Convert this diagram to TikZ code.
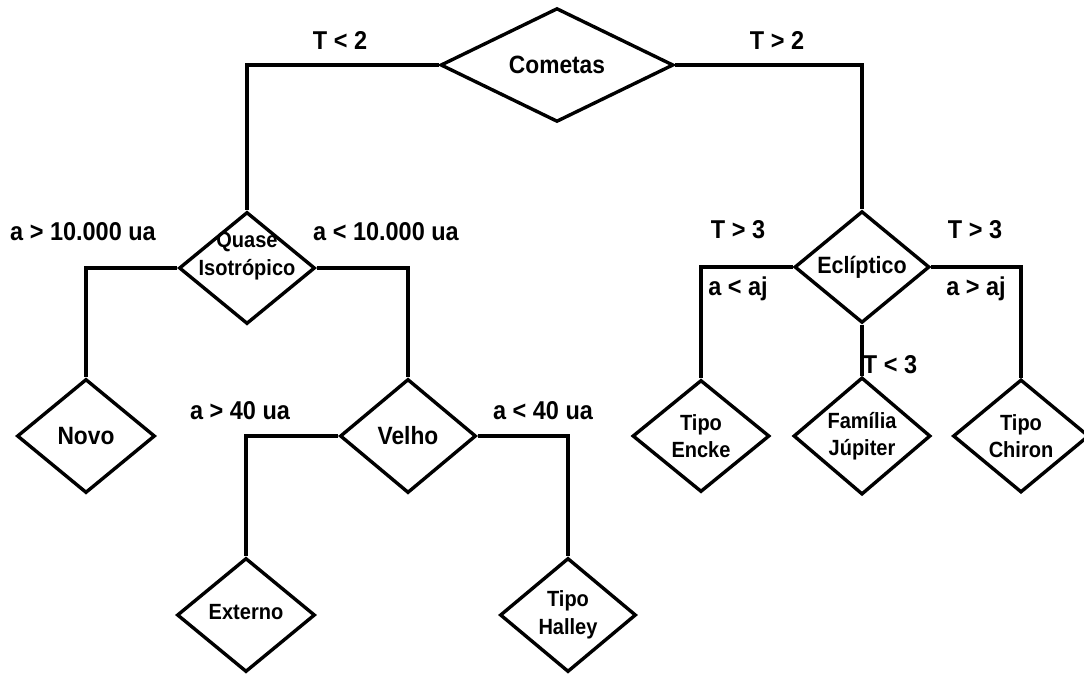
\documentclass[tikz,border=0pt]{standalone}
\usepackage{fontspec}
\setmainfont{Liberation Sans}[FakeStretch=0.91]
\usetikzlibrary{shapes.geometric}
\tikzset{
  dia/.style={draw=black, line width=3.4pt, diamond, inner sep=0pt, shape aspect=1, align=center, font=\bfseries\fontsize{22}{27.5}\selectfont},
  bigtxt/.style={font=\bfseries\fontsize{25}{27.5}\selectfont},
  conn/.style={draw=black, line width=3.4pt},
  lbl/.style={anchor=base, inner sep=0pt, font=\bfseries\fontsize{25.8}{28}\selectfont}
}
\begin{document}
\begin{tikzpicture}[x=1pt,y=-1pt]
\useasboundingbox (0,0) rectangle (1084,673);
% diamonds
\node[dia, bigtxt, minimum width=233pt, minimum height=112pt] (com) at (557,65) {Cometas};
\node[dia, minimum width=136pt, minimum height=112pt,
  label={[font=\bfseries\fontsize{22}{28}\selectfont, align=center, yshift=12pt]center:Quase\\Isotrópico}] (qi) at (247,268) {};
\node[dia, bigtxt, minimum width=138pt, minimum height=114pt] (novo) at (86,436) {Novo};
\node[dia, bigtxt, minimum width=136pt, minimum height=114pt] (velho) at (408,436) {Velho};
\node[dia, minimum width=138pt, minimum height=114pt] (ext) at (246,615) {\raisebox{6pt}{Externo}};
\node[dia, minimum width=136pt, minimum height=114pt] (hal) at (568,615) {Tipo\\Halley};
\node[dia, font=\bfseries\fontsize{23.6}{27.5}\selectfont, minimum width=135pt, minimum height=111pt] (ecl) at (862,267) {\raisebox{4pt}{Eclíptico}};
\node[dia, minimum width=137pt, minimum height=112pt] (enc) at (701,436) {Tipo\\Encke};
\node[dia, minimum width=137pt, minimum height=113pt] (fam) at (862,436) {Família\\Júpiter};
\node[dia, minimum width=136pt, minimum height=113pt] (chi) at (1021,436) {Tipo\\Chiron};
% connectors
\draw[conn] (com.west) -| (qi.north);
\draw[conn] (com.east) -| (ecl.north);
\draw[conn] (qi.west) -| (novo.north);
\draw[conn] (qi.east) -| (velho.north);
\draw[conn] (velho.west) -| (ext.north);
\draw[conn] (velho.east) -| (hal.north);
\draw[conn] (ecl.west) -| (enc.north);
\draw[conn] (ecl.east) -| (chi.north);
\draw[conn] (ecl.south) -- (fam.north);
% labels
\node[lbl] (l1) at (340,49) {T < 2};
\node[lbl] (l2) at (777,49) {T > 2};
\node[lbl] (l3) at (83,240) {a > 10.000 ua};
\node[lbl] (l4) at (386,240) {a < 10.000 ua};
\node[lbl] (l5) at (240,419) {a > 40 ua};
\node[lbl] (l6) at (543,419) {a < 40 ua};
\node[lbl] (l7) at (738,238) {T > 3};
\node[lbl] (l8) at (738,295) {a < aj};
\node[lbl] (l9) at (975,238) {T > 3};
\node[lbl] (l10) at (976,295) {a > aj};
\node[lbl] (l11) at (890,373) {T < 3};
\end{tikzpicture}
\end{document}
